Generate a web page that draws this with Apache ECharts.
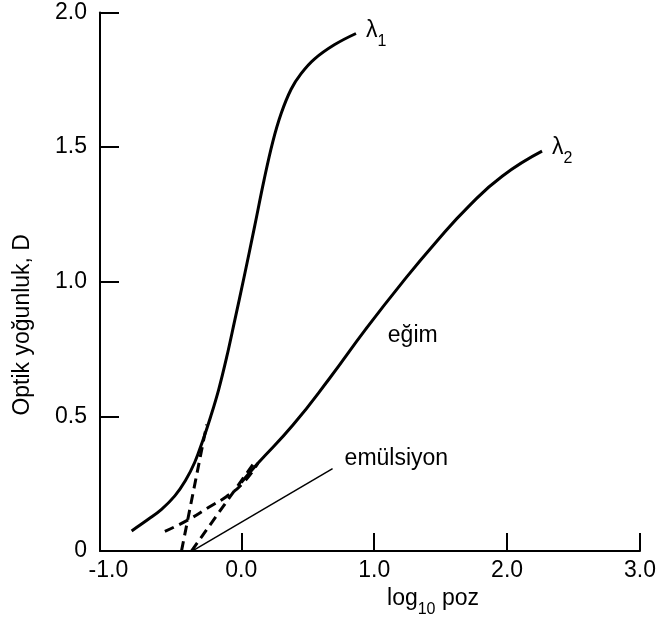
<!DOCTYPE html>
<html>
<head>
<meta charset="utf-8">
<script src="https://cdn.jsdelivr.net/npm/echarts@6/dist/echarts.min.js"></script>
<style>
  html, body { margin: 0; padding: 0; background: #fff; }
  #chart { width: 662px; height: 623px; }
</style>
</head>
<body>
<div id="chart"></div>
<script>
// egriler (log10 poz, D)
var lambda1 = [[-0.825,0.075],[-0.7,0.118],[-0.6,0.155],[-0.5,0.205],[-0.42,0.262],[-0.35,0.33],
  [-0.29,0.41],[-0.23,0.5],[-0.17,0.6],[-0.11,0.72],[-0.05,0.855],[0.02,1.015],[0.1,1.205],
  [0.17,1.375],[0.237,1.52],[0.3,1.625],[0.375,1.715],[0.45,1.773],[0.55,1.827],[0.7,1.88],[0.863,1.922]];
var lambda2 = [[0.0,0.255],[0.125,0.326],[0.387,0.467],[0.662,0.64],[0.938,0.825],[1.212,0.998],
  [1.463,1.146],[1.713,1.281],[1.963,1.392],[2.263,1.485]];
var lambda2Toe = [[-0.575,0.073],[-0.4,0.116],[-0.238,0.165],[-0.113,0.202],[0.012,0.252],[0.125,0.326]];
var tangent1 = [[-0.45,0],[-0.26,0.47]];
var tangent2 = [[-0.375,0],[0.1,0.33]];
var emulsion = [[-0.37,0],[0.687,0.306]];
var xLabels = [-1, 0, 1, 2, 3];
var xTicks = [0, 1, 2, 3];

var font = 'Liberation Sans, Arial, sans-serif';
var fs = 23;
var myChart = echarts.init(document.getElementById('chart'));

var dashed = { color: '#000', width: 3, type: [10, 6] };
var subRich = {
  a: { fontSize: fs, color: '#000', fontFamily: font, lineHeight: 24, verticalAlign: 'top' },
  s: { fontSize: 16, color: '#000', fontFamily: font, lineHeight: 31, verticalAlign: 'bottom' }
};

var option = {
  animation: false,
  textStyle: { fontFamily: font },
  grid: { left: 100, right: 22, top: 12.5, bottom: 70 },
  xAxis: {
    type: 'value',
    min: -1.063,
    max: 3,
    name: '{a|log}{s|10}{a| poz}',
    nameLocation: 'middle',
    nameGap: 30,
    nameTextStyle: { padding: [0, 0, 0, 126], rich: subRich },
    axisLine: { onZero: false, lineStyle: { color: '#000', width: 2 } },
    axisTick: { inside: true, length: 18, customValues: xTicks, lineStyle: { color: '#000', width: 2 } },
    axisLabel: {
      customValues: xLabels, margin: 8, fontSize: fs, color: '#000', fontFamily: font,
      formatter: function (v) { return v.toFixed(1); }
    },
    splitLine: { show: false }
  },
  yAxis: {
    type: 'value',
    min: 0,
    max: 2,
    interval: 0.5,
    name: 'Optik yoğunluk, D',
    nameLocation: 'middle',
    nameGap: 66,
    nameTextStyle: { fontSize: fs, color: '#000', fontFamily: font, padding: [0, 86, 0, 0] },
    axisLine: { onZero: false, lineStyle: { color: '#000', width: 2 } },
    axisTick: { inside: true, length: 19, lineStyle: { color: '#000', width: 2 } },
    axisLabel: {
      margin: 13, fontSize: fs, color: '#000', fontFamily: font,
      formatter: function (v) { return v === 0 ? '0' : v.toFixed(1); }
    },
    splitLine: { show: false }
  },
  series: [
    {
      name: 'lambda1', type: 'line', data: lambda1, smooth: 0.4, showSymbol: false,
      lineStyle: { color: '#000', width: 3 },
      endLabel: { show: true, distance: 10, offset: [0, 1], formatter: '{a|λ}{s|1}', rich: subRich }
    },
    {
      name: 'lambda2', type: 'line', data: lambda2, smooth: 0.5, showSymbol: false,
      lineStyle: { color: '#000', width: 3 },
      endLabel: { show: true, distance: 10, offset: [0, 0], formatter: '{a|λ}{s|2}', rich: subRich },
      markPoint: {
        symbolSize: 0,
        data: [{ coord: [1.29, 0.8], value: 'eğim' }],
        label: { show: true, position: 'inside', formatter: 'eğim', fontSize: fs, color: '#000', fontFamily: font }
      }
    },
    { name: 'toe', type: 'line', data: lambda2Toe, smooth: 0.5, showSymbol: false, lineStyle: dashed },
    { name: 'tan1', type: 'line', data: tangent1, showSymbol: false, lineStyle: dashed },
    { name: 'tan2', type: 'line', data: tangent2, showSymbol: false, lineStyle: dashed },
    {
      name: 'emulsion', type: 'line', data: emulsion, showSymbol: false,
      lineStyle: { color: '#000', width: 1.5 },
      endLabel: {
        show: true, distance: 12, offset: [0, -10], formatter: 'emülsiyon',
        fontSize: fs, color: '#000', fontFamily: font
      }
    }
  ]
};
myChart.setOption(option);
window.addEventListener('resize', function () { myChart.resize(); });
</script>
</body>
</html>
